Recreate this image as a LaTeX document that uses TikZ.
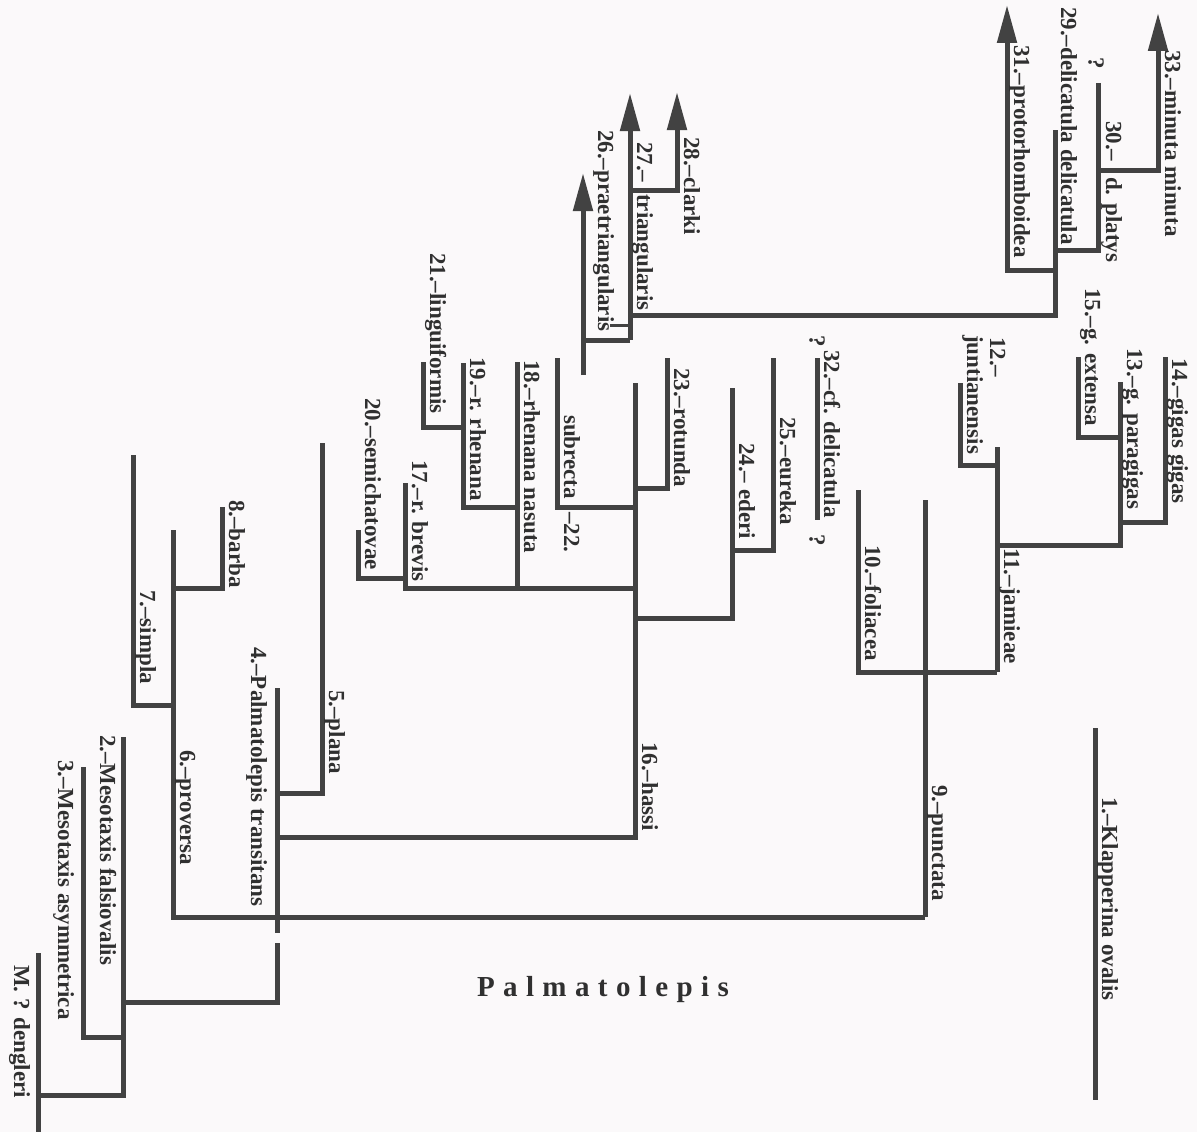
\documentclass[tikz,border=0pt]{standalone}
\usepackage{fontspec}
\setmainfont{Liberation Serif}
\usetikzlibrary{arrows.meta}
\definecolor{linecol}{HTML}{424242}
\definecolor{txtcol}{HTML}{303030}
\definecolor{bgcol}{HTML}{FBF9FA}
\begin{document}
\begin{tikzpicture}[x=1pt,y=-1pt,
  br/.style={line width=5pt, draw=linecol},
  arr/.style={br, -{Triangle[width=19pt,length=38pt]}},
  lab/.style={rotate=-90, anchor=base west, inner sep=0pt, text=txtcol,
    font=\fontsize{23}{25}\selectfont\bfseries},
  qm/.style={rotate=-90, anchor=center, inner sep=0pt, text=txtcol,
    font=\fontsize{23}{25}\selectfont\bfseries}]
\fill[bgcol] (0,0) rectangle (1197,1132);
\useasboundingbox (0,0) rectangle (1197,1132);

% ---------- coordinates ----------
% upper clade (26-31, 33)
\coordinate (t33) at (1158,13);
\coordinate (j30a) at (1098,170);
\coordinate (t30) at (1098,83);
\coordinate (j29b) at (1055,250);
\coordinate (j29c) at (1055,270);
\coordinate (t31) at (1007,5);
\coordinate (t29) at (1055,130);
\coordinate (j29) at (1055,315);
\coordinate (j27) at (630,315);
\coordinate (b27) at (630,340);
\coordinate (t27) at (630,93);
\coordinate (j28) at (630,190);
\coordinate (t28) at (677,92);
\coordinate (b26) at (583,375);
\coordinate (t26) at (583,173);
\coordinate (j26) at (583,340);
\coordinate (k1) at (630,325);
\coordinate (k2) at (610,325);
% hassi clade
\coordinate (t16) at (635,383);
\coordinate (j4h) at (277,837);
\coordinate (t23) at (667,358);
\coordinate (j16a) at (635,488);
\coordinate (t22) at (557,358);
\coordinate (j16b) at (635,507);
\coordinate (t17) at (405,483);
\coordinate (j16c) at (635,588);
\coordinate (t18) at (517,362);
\coordinate (j18) at (517,588);
\coordinate (t19) at (463,363);
\coordinate (j18b) at (517,507);
\coordinate (t21) at (423,362);
\coordinate (j19) at (463,427);
\coordinate (t20) at (358,530);
\coordinate (j17) at (405,578);
\coordinate (t24) at (732,388);
\coordinate (j16d) at (635,618);
\coordinate (t25) at (773,358);
\coordinate (j24) at (732,550);
\coordinate (t32) at (817,358);
\coordinate (b32) at (817,520);
% base of Palmatolepis
\coordinate (t5) at (322,443);
\coordinate (j4a) at (277,793);
\coordinate (t4) at (277,688);
\coordinate (b4a) at (277,933);
\coordinate (t4b) at (277,943);
\coordinate (j2) at (123,1002);
\coordinate (t6) at (173,530);
\coordinate (j9) at (925,917);
\coordinate (t9) at (925,500);
\coordinate (t7) at (133,455);
\coordinate (j6a) at (173,705);
\coordinate (t8) at (222,507);
\coordinate (j6b) at (173,588);
% punctata clade
\coordinate (t10) at (858,490);
\coordinate (j11) at (997,672);
\coordinate (t11) at (997,447);
\coordinate (t12) at (960,383);
\coordinate (j11a) at (997,465);
\coordinate (t13) at (1120,382);
\coordinate (j11b) at (997,545);
\coordinate (t14) at (1165,357);
\coordinate (j13a) at (1120,522);
\coordinate (t15) at (1078,357);
\coordinate (j13b) at (1120,437);
% Mesotaxis etc.
\coordinate (t2) at (123,737);
\coordinate (jM) at (38,1095);
\coordinate (t3) at (83,767);
\coordinate (j2b) at (123,1037);
\coordinate (tM) at (38,953);
\coordinate (bM) at (38,1132);
\coordinate (t1) at (1095,728);
\coordinate (b1) at (1095,1100);

% ---------- branches ----------
\draw[arr] (j30a) -| (t33);
\draw[br] (t30) |- (j29b);
\draw[arr] (j29c) -| (t31);
\draw[br] (t29) -- (j29) -- (j27);
\draw[arr] (b27) -- (t27);
\draw[arr] (j28) -| (t28);
\draw[arr] (b26) -- (t26);
\draw[br] (b27) -- (j26);
\draw[br, line width=3pt] (k1) -- (k2);

\draw[br] (t16) |- (j4h);
\draw[br] (t23) |- (j16a);
\draw[br] (t22) |- (j16b);
\draw[br] (t17) |- (j16c);
\draw[br] (t18) -- (j18);
\draw[br] (t19) |- (j18b);
\draw[br] (t21) |- (j19);
\draw[br] (t20) |- (j17);
\draw[br] (t24) |- (j16d);
\draw[br] (t25) |- (j24);
\draw[br] (t32) -- (b32);

\draw[br] (t5) |- (j4a);
\draw[br] (t4) -- (b4a);
\draw[br] (t4b) |- (j2);
\draw[br] (t6) |- (j9);
\draw[br] (t9) -- (j9);
\draw[br] (t7) |- (j6a);
\draw[br] (t8) |- (j6b);

\draw[br] (t10) |- (j11);
\draw[br] (t11) -- (j11);
\draw[br] (t12) |- (j11a);
\draw[br] (t13) |- (j11b);
\draw[br] (t14) |- (j13a);
\draw[br] (t15) |- (j13b);

\draw[br] (t2) |- (jM);
\draw[br] (t3) |- (j2b);
\draw[br] (tM) -- (bM);
\draw[br] (t1) -- (b1);

% ---------- labels ----------
\node[lab] (l33) at (1165,50) {33.–minuta minuta};
\node[lab] (l30) at (1106,121) {30.–};
\node[lab] (l30b) at (1106,177) {d. platys};
\node[qm] (q30) at (1096,63) {?};
\node[lab] (l29) at (1061,7) {29.–delicatula delicatula};
\node[lab] (l31) at (1014,45) {31.–protorhomboidea};
\node[lab] (l28) at (684,137) {28.–clarki};
\node[lab] (l27) at (637,142) {27.–};
\node[lab] (l27b) at (637,194) {triangularis};
\node[lab] (l26) at (598,130) {26.–praetriangularis};
\node[lab] (l21) at (430,253) {21.–linguiformis};
\node[lab] (l19) at (470,357) {19.–r. rhenana};
\node[lab] (l18) at (524,360) {18.–rhenana nasuta};
\node[lab] (l22) at (564,415) {subrecta};
\node[lab] (l22b) at (564,512) {–22.};
\node[lab] (l23) at (674,368) {23.–rotunda};
\node[lab] (l25) at (780,417) {25.–eureka};
\node[lab] (l24) at (739,443) {24.– ederi};
\node[lab] (l32) at (824,350) {32.–cf. delicatula};
\node[qm] (q32a) at (817,341) {?};
\node[qm] (q32b) at (817,540) {?};
\node[lab] (l17) at (412,460) {17.–r. brevis};
\node[lab] (l20) at (365,398) {20.–semichatovae};
\node[lab] (l16) at (642,742) {16.–hassi};
\node[lab] (l9) at (932,785) {9.–punctata};
\node[lab] (l10) at (865,545) {10.–foliacea};
\node[lab] (l11) at (1004,548) {11.–jamieae};
\node[lab] (l12a) at (990,337) {12.–};
\node[lab] (l12b) at (967,335) {juntianensis};
\node[lab] (l13) at (1127,348) {13.–g. paragigas};
\node[lab] (l14) at (1172,358) {14.–gigas gigas};
\node[lab] (l15) at (1085,288) {15.–g. extensa};
\node[lab] (l5) at (329,690) {5.–plana};
\node[lab] (l6) at (180,750) {6.–proversa};
\node[lab] (l7) at (140,590) {7.–simpla};
\node[lab] (l8) at (229,500) {8.–barba};
\node[lab] (l1) at (1102,797) {1.–Klapperina ovalis};
\node[lab] (l4) at (251,647) {4.–Palmatolepis transitans};
\node[lab] (l2) at (100,735) {2.–Mesotaxis falsiovalis};
\node[lab] (l3) at (58,760) {3.–Mesotaxis asymmetrica};
\node[lab] (lM) at (14,965) {M. ? dengleri};

\node[text=txtcol, inner sep=0pt,
  font=\fontsize{29}{30}\selectfont\bfseries\addfontfeature{LetterSpace=29}]
  (title) at (603,990) {Palmatolepis};
\end{tikzpicture}
\end{document}
